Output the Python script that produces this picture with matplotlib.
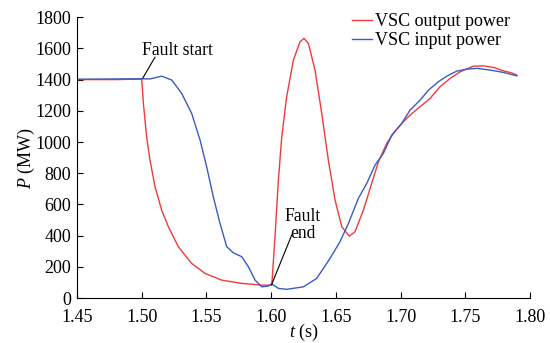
import matplotlib
matplotlib.use('Agg')
import matplotlib.pyplot as plt

plt.rcParams['font.family'] = ['Liberation Serif', 'DejaVu Serif']
plt.rcParams['mathtext.fontset'] = 'custom'
plt.rcParams['mathtext.it'] = 'Liberation Serif:italic'
plt.rcParams['mathtext.rm'] = 'Liberation Serif'

# VSC output power (red)
t_out = [1.45, 1.48, 1.50, 1.5013, 1.5038, 1.5064, 1.5103, 1.5154, 1.5206, 1.5283,
         1.5386, 1.5489, 1.5618, 1.5773, 1.5927, 1.6005, 1.603, 1.6056, 1.6082,
         1.612, 1.6172, 1.6223, 1.6254, 1.6288, 1.6339, 1.6391, 1.6442, 1.6494,
         1.6546, 1.6604, 1.6648, 1.6713, 1.6777, 1.6829, 1.6893, 1.6945, 1.7009,
         1.7073, 1.7151, 1.7228, 1.7305, 1.7383, 1.746, 1.7563, 1.764, 1.7717,
         1.7794, 1.7859, 1.7898]
p_out = [1400, 1400, 1403, 1247, 1033, 884, 713, 564, 457, 329,
         222, 158, 115, 94, 83, 83, 393, 756, 1033,
         1290, 1525, 1642, 1664, 1632, 1461, 1183, 884, 628,
         457, 397, 425, 564, 735, 873, 991, 1055, 1119,
         1172, 1226, 1279, 1354, 1407, 1450, 1486, 1488, 1478,
         1456, 1443, 1429]

# VSC input power (blue)
t_in = [1.45, 1.48, 1.50, 1.5064, 1.5154, 1.5232, 1.5309, 1.5386, 1.5451, 1.5502,
        1.5553, 1.5605, 1.5657, 1.5708, 1.5773, 1.5824, 1.5876, 1.5927, 1.5978,
        1.6005, 1.6056, 1.612, 1.6249, 1.6352, 1.6455, 1.6532, 1.6597, 1.6674,
        1.6739, 1.6803, 1.6867, 1.6932, 1.7009, 1.7073, 1.7151, 1.7215, 1.7292,
        1.7357, 1.7434, 1.7512, 1.7589, 1.7692, 1.7794, 1.7898]
p_in = [1402, 1404, 1405, 1404, 1422, 1397, 1311, 1183, 1012, 841,
        649, 478, 329, 290, 265, 201, 115, 72, 77,
        90, 62, 56, 72, 126, 254, 361, 478, 639,
        735, 852, 927, 1044, 1119, 1204, 1268, 1332, 1386,
        1422, 1454, 1467, 1472, 1461, 1446, 1424]

fig = plt.figure(figsize=(5.5, 3.43), dpi=100)
ax = fig.add_axes([0.14, 0.131, 0.8236, 0.819])

ax.plot(t_out, p_out, color='#ee3b3b', lw=1.0, label='VSC output power')
ax.plot(t_in, p_in, color='#3a5bc4', lw=1.0, label='VSC input power')

ax.set_xlim(1.45, 1.80)
ax.set_ylim(0, 1800)
ax.set_xticks([1.45, 1.50, 1.55, 1.60, 1.65, 1.70, 1.75, 1.80])
ax.set_xticklabels(['1.45', '1.50', '1.55', '1.60', '1.65', '1.70', '1.75', '1.80'])
ax.set_yticks(range(0, 1801, 200))
ax.tick_params(direction='in', labelsize=13, length=4, width=0.8)
ax.tick_params(axis='x', pad=8)
ax.tick_params(axis='y', pad=4)
for sp in ['top', 'right']:
    ax.spines[sp].set_visible(False)
ax.set_xlabel(r'$t$ (s)', fontsize=13, labelpad=-3)
ax.set_ylabel(r'$P$ (MW)', fontsize=13, labelpad=-1)

ax.text(1.5277, 1589, 'Fault start', fontsize=12.7, ha='center', va='center')
ax.annotate('', xy=(1.5008, 1409), xytext=(1.5103, 1544),
            arrowprops=dict(arrowstyle='-', color='black', lw=0.8, shrinkA=0, shrinkB=0))
ax.text(1.6247, 468, 'Fault\nend', fontsize=12.7, ha='center', va='center', linespacing=0.95)
ax.annotate('', xy=(1.6003, 85), xytext=(1.6159, 404),
            arrowprops=dict(arrowstyle='-', color='black', lw=0.8, shrinkA=0, shrinkB=0))

ax.legend(loc='upper left', bbox_to_anchor=(0.607, 1.014), frameon=False, fontsize=13,
          handlelength=1.1, handletextpad=0.2, labelspacing=0.1, borderaxespad=0,
          borderpad=0)

fig.savefig('out.png', dpi=100)
